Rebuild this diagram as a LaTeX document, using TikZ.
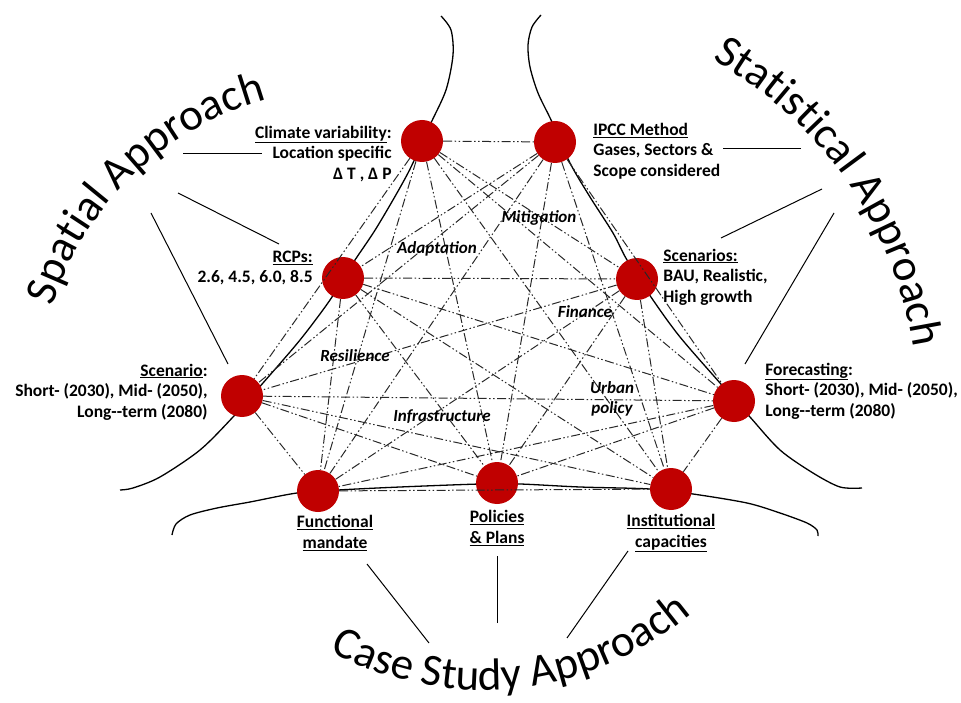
\documentclass[tikz,border=0pt]{standalone}
\usepackage{fontspec}
\setmainfont{Carlito}
\usetikzlibrary{positioning,decorations.text}
\definecolor{dotred}{RGB}{192,0,0}
\definecolor{linkgray}{RGB}{40,40,40}
\newcommand{\apprfont}{\fontsize{45}{45}\selectfont}
\newcommand{\labelfont}{\fontsize{17.5}{20.5}\selectfont\bfseries}

\begin{document}
\begin{tikzpicture}[x=1pt, y=-1pt,
        dot/.style={circle, fill=dotred, minimum size=42pt, inner sep=0pt},
        link/.style={linkgray, line width=1pt,
                     dash pattern=on 9pt off 2.5pt on 1.5pt off 2.5pt on 1.5pt off 2.5pt},
        curve/.style={black, line width=1.3pt},
        pointer/.style={black, line width=1pt},
        infoR/.style={font=\labelfont, align=right, inner sep=0pt},
        infoL/.style={font=\labelfont, align=left, inner sep=0pt},
        infoC/.style={font=\labelfont, align=center, inner sep=0pt},
        theme/.style={font=\fontsize{17}{20}\selectfont\bfseries\itshape, align=center, inner sep=0pt},
        approach/.style={decorate, decoration={text along path, text align=center, text={#1}}}
    ]
        \useasboundingbox (0,0) rectangle (961,703);

        % the three curves
        \draw[curve] plot[smooth] coordinates {(441,16) (451,30) (453,55) (446,90) (430,125)
            (408,173) (377,227) (353,263) (330,300) (300,340) (263,383) (233,417)
            (200,450) (160,477) (133,488) (120,490)};
        \draw[curve] plot[smooth] coordinates {(541,15) (532,27) (528,45) (530,67) (538,93)
            (552,122) (570,163) (590,197) (613,233) (627,260) (653,300) (680,337)
            (720,383) (750,417) (780,450) (813,473) (840,487) (862,488)};
        \draw[curve] plot[smooth] coordinates {(172,535) (176,524) (190,515) (217,508)
            (250,502) (297,493) (338,490) (400,487) (480,484) (520,484) (580,487)
            (650,489) (693,494) (747,503) (780,513) (807,523) (817,530) (818,536)};

        % approaches
        \path[approach={|\apprfont|Spatial Approach}]
            (350,400) ++(190:312) arc[start angle=190, end angle=262, radius=312];
        \path[approach={|\apprfont|Statistical Approach}]
            (521,408) ++(-70:397) arc[start angle=-70, end angle=0, radius=397];
        \path[approach={|\apprfont|Case Study Approach}]
            (483,368) ++(120:322) arc[start angle=120, end angle=48, radius=322];

        % dots
        \node[dot] (climate) at (422,141) {};
        \node[dot] (ipcc)    at (555,142) {};
        \node[dot] (rcp)     at (343,278) {};
        \node[dot] (scen)    at (637,279) {};
        \node[dot] (scenl)   at (242,396) {};
        \node[dot] (fore)    at (734,401) {};
        \node[dot] (func)    at (318,491) {};
        \node[dot] (pol)     at (497,483) {};
        \node[dot] (inst)    at (671,489) {};

        \foreach \a/\b in {climate/ipcc, climate/scen, climate/scenl, climate/fore,
                           climate/func, climate/pol, climate/inst,
                           ipcc/rcp, ipcc/scenl, ipcc/fore, ipcc/func, ipcc/pol, ipcc/inst,
                           rcp/scen, rcp/fore, rcp/func, rcp/pol, rcp/inst,
                           scen/scenl, scen/func, scen/pol, scen/inst,
                           scenl/fore, scenl/func, scenl/pol, scenl/inst,
                           fore/func, fore/pol, fore/inst, func/inst}
            \draw[link] (\a) -- (\b);

        % labels
        \node[infoR, left=9pt of climate, yshift=-13pt] (climatetxt)
            {\underline{Climate variability}:\\Location specific\\Δ T , Δ P};
        \node[infoR, left=9pt of rcp, yshift=10pt] (rcptxt)
            {\underline{RCPs:}\\2.6, 4.5, 6.0, 8.5};
        \node[infoR, left=13pt of scenl, yshift=4pt] (scenltxt)
            {\underline{Scenario}:\\Short- (2030), Mid- (2050),\\Long-{}-term (2080)};
        \node[infoL, right=17pt of ipcc, yshift=-9pt] (ipcctxt)
            {\underline{IPCC Method}\\Gases, Sectors \&\\Scope considered};
        \node[infoL, right=5pt of scen, yshift=2pt] (scentxt)
            {\underline{Scenarios:}\\BAU, Realistic,\\High growth};
        \node[infoL, right=10pt of fore, yshift=10pt] (foretxt)
            {\underline{Forecasting}:\\Short- (2030), Mid- (2050),\\Long-{}-term (2080)};
        \node[infoC, below=3pt of func, xshift=17pt] (functxt)
            {\underline{Functional}\\\underline{mandate}};
        \node[infoC, below=6pt of pol] (poltxt)
            {\underline{Policies}\\\underline{\& Plans}};
        \node[infoC, below=4pt of inst] (insttxt)
            {\underline{Institutional}\\\underline{capacities}};

        % themes
        \node[theme] (adapt)  at (437,249) {Adaptation};
        \node[theme] (mitig)  at (539,218) {Mitigation};
        \node[theme] (fin)    at (585,312) {Finance};
        \node[theme] (resil)  at (355,356) {Resilience};
        \node[theme] (urban)  at (612,399) {Urban\\policy};
        \node[theme] (infra)  at (442,417) {Infrastructure};

        % pointers
        \coordinate (sp1) at (183,154); \coordinate (sp1e) at (262,154);
        \coordinate (sp2) at (178,193); \coordinate (sp2e) at (279,244);
        \coordinate (sp3) at (151,213); \coordinate (sp3e) at (228,364);
        \coordinate (st1) at (801,149); \coordinate (st1e) at (723,149);
        \coordinate (st2) at (822,189); \coordinate (st2e) at (721,238);
        \coordinate (st3) at (834,213); \coordinate (st3e) at (745,364);
        \coordinate (cs1) at (429,643); \coordinate (cs1e) at (367,564);
        \coordinate (cs2) at (497,623); \coordinate (cs2e) at (497,556);
        \coordinate (cs3) at (567,638); \coordinate (cs3e) at (628,551);
        \foreach \p in {sp1, sp2, sp3, st1, st2, st3, cs1, cs2, cs3}
            \draw[pointer] (\p) -- (\p e);
    \end{tikzpicture}
\end{document}
